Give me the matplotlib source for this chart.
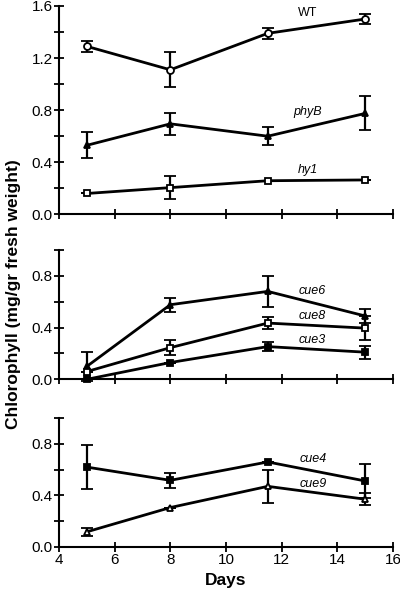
import matplotlib
matplotlib.use('Agg')
import matplotlib.pyplot as plt
import numpy as np

plt.rcParams['font.family'] = ['Liberation Sans', 'DejaVu Sans']

days = [5, 8, 11.5, 15]

# panel 1
wt = [1.29, 1.11, 1.39, 1.50]
wt_err = [0.04, 0.135, 0.04, 0.04]
phyb = [0.53, 0.695, 0.60, 0.775]
phyb_err = [0.10, 0.085, 0.07, 0.13]
hy1 = [0.16, 0.205, 0.258, 0.264]
hy1_err = [0.0, 0.09, 0.0, 0.0]

# panel 2
cue6 = [0.10, 0.577, 0.68, 0.49]
cue6_err = [0.11, 0.055, 0.12, 0.057]
cue8 = [0.06, 0.245, 0.435, 0.396]
cue8_err = [0.0, 0.06, 0.045, 0.09]
cue3 = [0.0, 0.13, 0.253, 0.21]
cue3_err = [0.0, 0.0, 0.035, 0.05]

# panel 3
cue4 = [0.62, 0.517, 0.66, 0.512]
cue4_err = [0.17, 0.06, 0.0, 0.13]
cue9 = [0.116, 0.305, 0.47, 0.37]
cue9_err = [0.03, 0.0, 0.13, 0.045]

x_ticks = [4, 6, 8, 10, 12, 14, 16]

fig = plt.figure(figsize=(4.0, 5.94), dpi=100)
ax1 = fig.add_axes([0.1475, 0.6392, 0.835, 0.3507])
ax2 = fig.add_axes([0.1475, 0.3614, 0.835, 0.2177])
ax3 = fig.add_axes([0.1475, 0.0796, 0.835, 0.2162])


def series(ax, y, err, marker, filled):
    ax.errorbar(days, y, yerr=err, color='black', lw=2, elinewidth=1.6,
                capsize=4, capthick=1.6, marker=marker, ms=5, mew=1.3,
                mfc='black' if filled else 'white', mec='black', clip_on=False,
                zorder=3)


series(ax1, wt, wt_err, 'o', False)
series(ax1, phyb, phyb_err, '^', True)
series(ax1, hy1, hy1_err, 's', False)
ax1.text(12.95, 1.545, 'WT', fontsize=9, ha='center', va='center')
ax1.text(12.95, 0.787, 'phyB', fontsize=9, style='italic', ha='center', va='center')
ax1.text(12.95, 0.34, 'hy1', fontsize=9, style='italic', ha='center', va='center')

series(ax2, cue6, cue6_err, '^', True)
series(ax2, cue8, cue8_err, 's', False)
series(ax2, cue3, cue3_err, 's', True)
ax2.text(13.1, 0.68, 'cue6', fontsize=9, style='italic', ha='center', va='center')
ax2.text(13.1, 0.486, 'cue8', fontsize=9, style='italic', ha='center', va='center')
ax2.text(13.1, 0.305, 'cue3', fontsize=9, style='italic', ha='center', va='center')

series(ax3, cue4, cue4_err, 's', True)
series(ax3, cue9, cue9_err, '^', False)
ax3.text(13.15, 0.68, 'cue4', fontsize=9, style='italic', ha='center', va='center')
ax3.text(13.15, 0.49, 'cue9', fontsize=9, style='italic', ha='center', va='center')

for ax, top in [(ax1, 1.6), (ax2, 1.0), (ax3, 1.0)]:
    ax.set_xlim(4, 16)
    ax.set_ylim(0, top)
    ax.spines['top'].set_visible(False)
    ax.spines['right'].set_visible(False)
    ax.spines['left'].set_linewidth(1.5)
    ax.spines['bottom'].set_linewidth(1.5)
    ax.set_xticks(x_ticks)
    ax.set_yticks(np.arange(0, top + 0.01, 0.4))
    ax.set_yticks(np.arange(0.2, top + 0.01, 0.4), minor=True)
    ax.yaxis.set_major_formatter(matplotlib.ticker.FormatStrFormatter('%.1f'))
    ax.tick_params(which='both', direction='inout', length=7, width=1.3, labelsize=11, pad=1)

ax1.tick_params(axis='x', labelbottom=False)
ax2.tick_params(axis='x', labelbottom=False)

ax3.set_xlabel('Days', fontsize=12.5, fontweight='bold', labelpad=4)
fig.text(0.035, 0.505, 'Chlorophyll (mg/gr fresh weight)', rotation=90, fontsize=12.5,
         fontweight='bold', ha='center', va='center')

fig.savefig('out.png', dpi=100)
